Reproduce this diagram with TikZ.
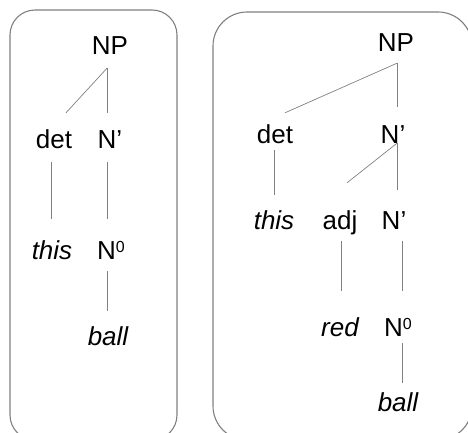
\documentclass[tikz,border=0pt]{standalone}
\usepackage{fontspec}
\setmainfont{Liberation Sans}
\definecolor{edgegray}{gray}{0.5}
\definecolor{boxgray}{gray}{0.5}
\newcommand{\nzerolabel}{N\raisebox{7pt}{\fontsize{16}{18}\selectfont 0}}
\tikzset{
	cat/.style={
		inner sep=0pt,
		anchor=base,
		text height=18.5pt,
		text depth=0pt,
		font=\fontsize{26}{30}\selectfont
	},
	word/.style={
		cat,
		font=\fontsize{26}{30}\selectfont\itshape
	},
	branch/.style={draw=edgegray, line width=0.7pt},
	panel/.style={draw=boxgray, line width=1.1pt, rounded corners=#1}
}

\begin{document}
\begin{tikzpicture}[x=1pt,y=-1pt]
  \useasboundingbox (0,0) rectangle (468,433);
  \clip (0,0) rectangle (468,433);

  \draw [panel=25] (10,10) rectangle (177,440);
  \draw [panel=34] (213,12) rectangle (472,440);

  % this ball
  \node [cat] (np) at (110,55) {NP};
  \node [cat] (det) at (54,148) {det};
  \node [cat] (nbar) at (110,148) {N'};
  \node [word] (this) at (52,259) {this};
  \node [cat] (nzero) at (111,259) {\nzerolabel};
  \node [word] (ball) at (108,345) {ball};

  \draw [branch] ([shift={(-3,13)}]np.south) -- ([shift={(12,-16.5)}]det.north);
  \draw [branch] ([shift={(-3,13)}]np.south) -- ([shift={(-3,-16.5)}]nbar.north);
  \draw [branch] ([shift={(-3,14)}]det.south) -- ([shift={(-1,-21.5)}]this.north);
  \draw [branch] ([shift={(-3,14)}]nbar.south) -- ([shift={(-4,-21.5)}]nzero.north);
  \draw [branch] ([shift={(-4,12)}]nzero.south) -- ([shift={(-1,-15.5)}]ball.north);

  % this red ball
  \node [cat] (np2) at (396,52) {NP};
  \node [cat] (det2) at (275,143) {det};
  \node [cat] (nbar2) at (393,143) {N'};
  \node [word] (this2) at (274,229) {this};
  \node [cat] (adj) at (340,229) {adj};
  \node [cat] (nbar3) at (394,229) {N'};
  \node [word] (red) at (340,336) {red};
  \node [cat] (nzero2) at (398,336) {\nzerolabel};
  \node [word] (ball2) at (398,411) {ball};

  \draw [branch] ([shift={(1,11)}]np2.south) -- ([shift={(10,-11.5)}]det2.north);
  \draw [branch] ([shift={(1,11)}]np2.south) -- ([shift={(4,-17.5)}]nbar2.north);
  \draw [branch] ([shift={(-1,7)}]det2.south) -- ([shift={(0,-15.5)}]this2.north);
  \draw [branch] ([shift={(4,0)}]nbar2.south) -- ([shift={(7,-27.5)}]adj.north);
  \draw [branch] ([shift={(4,0)}]nbar2.south) -- ([shift={(3,-20.5)}]nbar3.north);
  \draw [branch] ([shift={(1,12)}]adj.south) -- ([shift={(1,-26.5)}]red.north);
  \draw [branch] ([shift={(8,12)}]nbar3.south) -- ([shift={(4,-26.5)}]nzero2.north);
  \draw [branch] ([shift={(4,7)}]nzero2.south) -- ([shift={(4,-9.5)}]ball2.north);
\end{tikzpicture}
\end{document}
